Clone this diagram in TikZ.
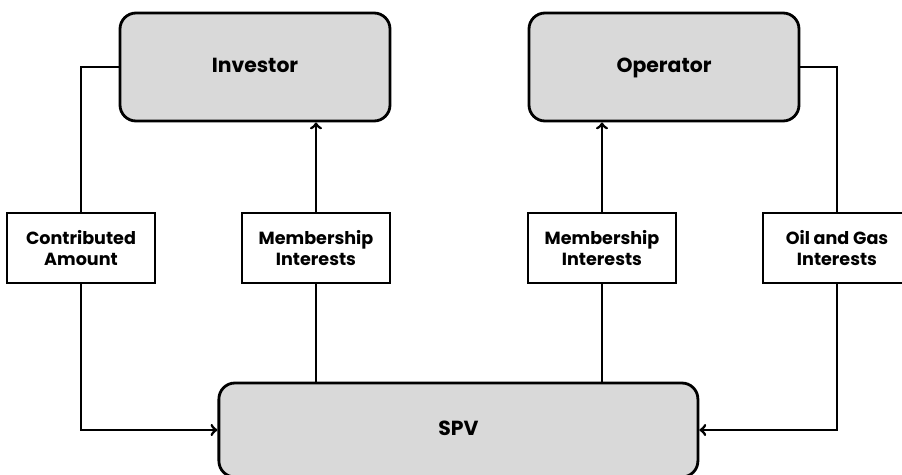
\documentclass[tikz,border=0pt]{standalone}
\usepackage{fontspec}
\setmainfont{Poppins}
\tikzset{
    party/.style={draw, line width=2pt, fill=black!15, rounded corners=0.4cm,
        minimum width=6.75cm, minimum height=2.7cm, text height=1.4ex, text depth=0pt,
        font=\fontsize{14.5}{16}\selectfont\bfseries},
    flow/.style={draw, line width=2pt, fill=white, align=center,
        minimum width=3.7cm, minimum height=1.75cm, font=\fontsize{12.5}{15}\selectfont\bfseries},
    link/.style={line width=2pt}
}
\begin{document}
\begin{tikzpicture}
    %frame
    \clip (0,0) rectangle (22.55,11.85);

    %parties
    \node[party] (investor) at (6.375,10.175) {Investor};
    \node[party] (operator) at (16.6,10.175) {Operator};
    \node[party, minimum width=11.975cm, minimum height=2.35cm] (spv) at (11.46,1.1) {SPV};

    %what changes hands
    \node[flow] (contrib) at (2.025,5.65) {Contributed\\Amount};
    \node[flow] (memInv) at (7.9,5.65) {Membership\\Interests};
    \node[flow] (memOp) at (15.05,5.65) {Membership\\Interests};
    \node[flow] (oilgas) at (20.925,5.65) {Oil and Gas\\Interests};

    %investor side
    \draw[link] (investor.west) -| (contrib.north);
    \draw[link, ->] (contrib.south) |- (spv.west);
    \draw[link] (spv.north -| memInv) -- (memInv.south);
    \draw[link, ->] (memInv.north) -- (memInv.north |- investor.south);

    %operator side
    \draw[link] (operator.east) -| (oilgas.north);
    \draw[link, ->] (oilgas.south) |- (spv.east);
    \draw[link] (spv.north -| memOp) -- (memOp.south);
    \draw[link, ->] (memOp.north) -- (memOp.north |- operator.south);
\end{tikzpicture}
\end{document}
